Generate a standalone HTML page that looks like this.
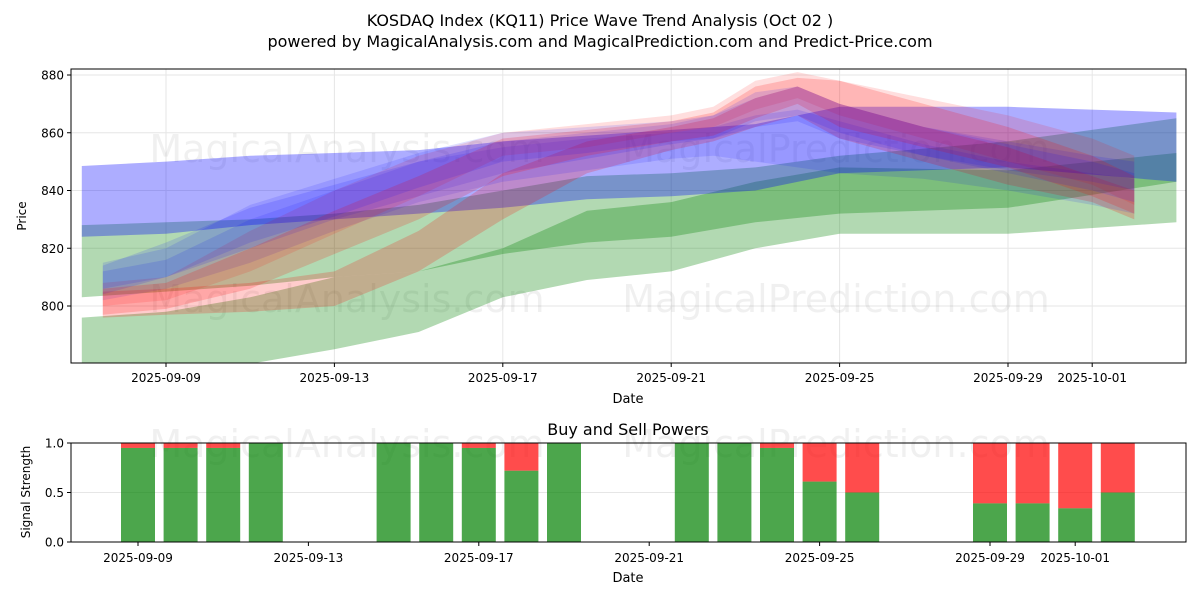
<!DOCTYPE html>
<html><head><meta charset="utf-8"><style>
body{margin:0;background:#fff;}
svg{display:block;font-family:"DejaVu Sans","Liberation Sans",sans-serif;}
</style></head><body>
<svg id="chart" width="1200" height="600" viewBox="0 0 1200 600" xmlns="http://www.w3.org/2000/svg">
<rect width="1200" height="600" fill="#fff"/>
<text x="600" y="26" text-anchor="middle" font-size="16">KOSDAQ Index (KQ11) Price Wave Trend Analysis (Oct 02 )</text>
<text x="600" y="47" text-anchor="middle" font-size="16">powered by MagicalAnalysis.com and MagicalPrediction.com and Predict-Price.com</text>
<g id="topPanel"></g>
<g id="botPanel"></g>
</svg>
<script>
// ---- price panel data ----
const tickDates = ["2025-09-09","2025-09-13","2025-09-17","2025-09-21","2025-09-25","2025-09-29","2025-10-01"];
const tickDays = [0,4,8,12,16,20,22];
const priceTicks = [800,820,840,860,880];
const bandDays = [-2,0,2,4,6,8,10,12,14,16,20,24];
const blueTop = [848.5,850,852,853,854,857,859,861,863,869,869,867];
const blueBot = [824,825,828,830,832,834,837,838,840,846,848,843];
const greenATop = [828,829,830,832,835,840,845,846,848,852,857,865];
const greenABot = [803,805,807,810,812,818,822,824,829,832,834,843];
const greenBTop = [796,798,803,810,812,820,833,836,843,848,847,853];
const greenBBot = [778,776,780,785,791,803,809,812,820,825,825,829];
const fanDays = [-1.5,0,2,4,6,8,10,12,13,14,15,16,18,20,22,23];
const red1Lo = [797,799,806,818,830,845,852,857,859,865,870,862,855,848,838,832];
const red1Hi = [806,808,820,833,845,858,861,864,867,876,879,878,870,862,852,845];
const red2Lo = [796,797,798,800,812,830,846,854,857,862,866,858,850,842,836,830];
const red2Hi = [805,806,808,812,826,846,857,862,865,872,876,870,862,855,845,840];
const red3Lo = [800,802,812,825,838,852,855,860,862,868,872,866,858,850,842,835];
const red3Hi = [808,810,826,840,852,860,863,866,869,878,881,878,872,866,858,852];
const blue1Lo = [804,810,820,830,838,846,851,856,858,862,864,858,852,847,843,840];
const blue1Hi = [814,822,834,842,850,857,860,863,866,872,876,870,862,857,852,850];
const blue2Lo = [806,810,822,831,841,850,853,857,858,864,866,860,852,846,840,836];
const blue2Hi = [815,820,835,844,853,860,862,864,866,874,876,870,862,856,850,846];
const blue3Lo = [802,806,815,826,836,843,847,851,852,850,848,846,844,840,835,832];
const blue3Hi = [812,816,830,840,850,855,858,860,862,866,868,864,856,850,846,844];
// ---- signal panel data ----
const barDays = [0,1,2,3,6,7,8,9,10,13,14,15,16,17,20,21,22,23];
const buyPower = [0.95,0.95,0.95,1.0,1.0,1.0,0.95,0.72,1.0,1.0,1.0,0.95,0.61,0.5,0.39,0.39,0.34,0.5];
const signalTicks = [0,0.5,1.0];

const NS="http://www.w3.org/2000/svg";
function mk(tag,attrs,parent){const e=document.createElementNS(NS,tag);for(const k in attrs)e.setAttribute(k,attrs[k]);parent.appendChild(e);return e;}
const pT=document.getElementById('topPanel'), pB=document.getElementById('botPanel');
const T={l:71,r:1186,t:69,b:363};
const xT=d=>166+d*42.1;
const yT=v=>306-(v-800)*2.8875;
const B={l:71,r:1186,t:443,b:542};
const xB=d=>138+d*42.6;
const yB=v=>542-v*99;

const defs=mk('defs',{},pT);
const cp=mk('clipPath',{id:'cpT'},defs);
mk('rect',{x:T.l,y:T.t,width:T.r-T.l,height:T.b-T.t},cp);

priceTicks.forEach(v=>{const l=mk('line',{x1:T.l,x2:T.r,y1:yT(v),y2:yT(v),stroke:'#e6e6e6','stroke-width':1},pT);

});
tickDays.forEach(d=>{const l=mk('line',{x1:xT(d),x2:xT(d),y1:T.t,y2:T.b,stroke:'#e6e6e6','stroke-width':1},pT);

});

[[347,148,'MagicalAnalysis.com'],[836,148,'MagicalPrediction.com'],[347,298,'MagicalAnalysis.com'],[836,298,'MagicalPrediction.com']].forEach(w=>{
const t=mk('text',{x:w[0],y:w[1]+14,'text-anchor':'middle','font-size':38,fill:'#000','fill-opacity':0.06},pT);t.textContent=w[2];

});

const g=mk('g',{'clip-path':'url(#cpT)'},pT);
function band(days,lo,hi,color,op,name){
  let p=days.map((d,i)=>xT(d).toFixed(1)+','+yT(hi[i]).toFixed(1));
  for(let i=days.length-1;i>=0;i--)p.push(xT(days[i]).toFixed(1)+','+yT(lo[i]).toFixed(1));
  const e=mk('polygon',{points:p.join(' '),fill:color,'fill-opacity':op},g);
  
  
}
band(bandDays,greenBBot,greenBTop,'#008000',0.3,'green-band-lower');
band(bandDays,greenABot,greenATop,'#008000',0.3,'green-band-upper');
band(bandDays,blueBot,blueTop,'#0000ff',0.32,'blue-band');
band(fanDays,red2Lo,red2Hi,'#ff0000',0.2,'red-wave-2');
band(fanDays,blue3Lo,blue3Hi,'#0000ff',0.12,'blue-wave-3');
band(fanDays,red3Lo,red3Hi,'#ff0000',0.13,'red-wave-3');
band(fanDays,blue1Lo,blue1Hi,'#0000ff',0.13,'blue-wave-1');
band(fanDays,red1Lo,red1Hi,'#ff0000',0.18,'red-wave-1');
band(fanDays,blue2Lo,blue2Hi,'#0000ff',0.12,'blue-wave-2');

mk('rect',{x:T.l,y:T.t,width:T.r-T.l,height:T.b-T.t,fill:'none',stroke:'#000','stroke-width':1},pT);
priceTicks.forEach(v=>{
 if(yT(v)<T.t-1||yT(v)>T.b)return;
 mk('line',{x1:T.l-4,x2:T.l,y1:yT(v),y2:yT(v),stroke:'#000'},pT);
 const t=mk('text',{x:T.l-7,y:yT(v)+4.5,'text-anchor':'end','font-size':12},pT);t.textContent=v;
 
 });
tickDays.forEach((d,i)=>{
 mk('line',{x1:xT(d),x2:xT(d),y1:T.b,y2:T.b+4,stroke:'#000'},pT);
 const t=mk('text',{x:xT(d),y:T.b+19,'text-anchor':'middle','font-size':12},pT);t.textContent=tickDates[i];
 
 });
let tx=mk('text',{x:628,y:403,'text-anchor':'middle','font-size':13},pT);tx.textContent='Date';


tx=mk('text',{x:26,y:216,'text-anchor':'middle','font-size':12,transform:'rotate(-90 26 216)'},pT);tx.textContent='Price';



tx=mk('text',{x:628,y:435,'text-anchor':'middle','font-size':16},pB);tx.textContent='Buy and Sell Powers';


signalTicks.forEach(v=>{const l=mk('line',{x1:B.l,x2:B.r,y1:yB(v),y2:yB(v),stroke:'#e6e6e6'},pB);

});
[[347,'MagicalAnalysis.com'],[836,'MagicalPrediction.com']].forEach(w=>{
const e=mk('text',{x:w[0],y:457,'text-anchor':'middle','font-size':38,fill:'#000','fill-opacity':0.06},pB);e.textContent=w[1];

});
barDays.forEach((d,i)=>{
 const x=xB(d)-17, v=buyPower[i];
 const s=mk('rect',{x:x,y:yB(1),width:34,height:yB(v)-yB(1),fill:'#ff0000','fill-opacity':0.7},pB);
 
 
 const b=mk('rect',{x:x,y:yB(v),width:34,height:yB(0)-yB(v),fill:'#008000','fill-opacity':0.7},pB);
 
 
});
mk('rect',{x:B.l,y:B.t,width:B.r-B.l,height:B.b-B.t,fill:'none',stroke:'#000'},pB);
signalTicks.forEach(v=>{
 mk('line',{x1:B.l-4,x2:B.l,y1:yB(v),y2:yB(v),stroke:'#000'},pB);
 const e=mk('text',{x:B.l-7,y:yB(v)+4.5,'text-anchor':'end','font-size':12},pB);e.textContent=v.toFixed(1);
 
 });
tickDays.forEach((d,i)=>{
 mk('line',{x1:xB(d),x2:xB(d),y1:B.b,y2:B.b+4,stroke:'#000'},pB);
 const e=mk('text',{x:xB(d),y:B.b+20,'text-anchor':'middle','font-size':12},pB);e.textContent=tickDates[i];
 
 });
tx=mk('text',{x:628,y:582,'text-anchor':'middle','font-size':13},pB);tx.textContent='Date';


tx=mk('text',{x:30,y:492,'text-anchor':'middle','font-size':12,transform:'rotate(-90 30 492)'},pB);tx.textContent='Signal Strength';


</script>
</body></html>
